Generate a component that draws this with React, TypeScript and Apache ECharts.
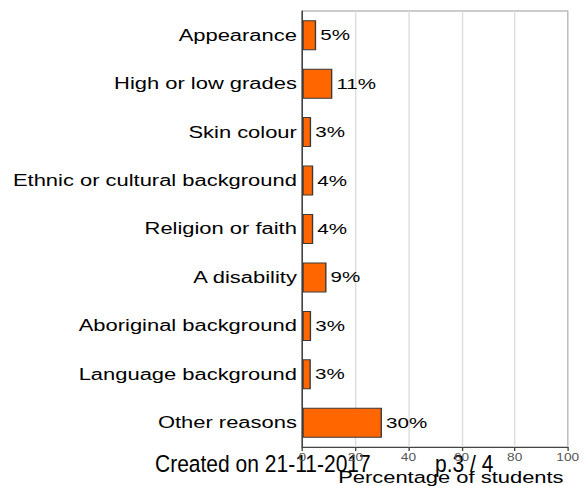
import React, { useEffect, useRef } from "react";
import * as echarts from "echarts";

const categories = [
  "Appearance",
  "High or low grades",
  "Skin colour",
  "Ethnic or cultural background",
  "Religion or faith",
  "A disability",
  "Aboriginal background",
  "Language background",
  "Other reasons",
];
const values = [5.2, 11.3, 3.3, 4.1, 4.1, 9.1, 3.3, 3.2, 30];
const xTicks = { min: 0, max: 100, interval: 20 };
const axisTitle = "Percentage of students";
const footerLeft = "Created on 21-11-2017";
const footerRight = "p.3 / 4";

const S = 1.3706;
const W = 429;
const H = 486;
const FONT = "'Liberation Sans', Arial, Helvetica, sans-serif";

export default function App() {
  const ref = useRef<HTMLDivElement>(null);
  useEffect(() => {
    if (!ref.current) return;
    const chart = echarts.init(ref.current, null, { renderer: "svg", width: W, height: H });
    chart.setOption({
      animation: false,
      textStyle: { fontFamily: FONT },
      grid: {
        left: 220.6,
        right: 14.8,
        top: 11,
        bottom: 39,
        show: true,
        borderColor: "#9a9a9a",
        borderWidth: 1,
        backgroundColor: "transparent",
      },
      xAxis: {
        type: "value",
        min: xTicks.min,
        max: xTicks.max,
        interval: xTicks.interval,
        name: axisTitle,
        nameLocation: "end",
        nameGap: -3,
        nameMoveOverlap: false,
        nameTextStyle: {
          fontFamily: FONT,
          fontSize: 16,
          color: "#000",
          align: "right",
          verticalAlign: "top",
          padding: [23, 0, 0, 0],
        },
        axisLine: { show: true, lineStyle: { color: "#444", width: 1 } },
        axisTick: { show: true, length: 4, lineStyle: { color: "#444" } },
        axisLabel: { fontSize: 10, color: "#555", margin: 6, fontFamily: FONT },
        splitLine: { show: true, lineStyle: { color: "#dcdcdc", width: 1 } },
      },
      yAxis: {
        type: "category",
        data: categories,
        inverse: true,
        axisLine: { show: true, lineStyle: { color: "#333", width: 1 } },
        axisTick: { show: false },
        axisLabel: { fontSize: 16, color: "#000", margin: 4, fontFamily: FONT },
        splitLine: { show: false },
      },
      series: [
        {
          type: "bar",
          data: values,
          barWidth: 30,
          itemStyle: { color: "#FF6600", borderColor: "#3a3a3a", borderWidth: 1 },
          label: {
            show: true,
            position: "right",
            distance: 3,
            fontSize: 15,
            color: "#000",
            fontFamily: FONT,
            formatter: (p: any) => Math.round(p.value) + "%",
          },
        },
      ],
      graphic: [
        {
          type: "text",
          x: 155 / S,
          y: 464,
          scaleX: 1 / S,
          scaleY: 1.1,
          style: {
            text: footerLeft,
            font: `21px ${FONT}`,
            fill: "#000",
            textVerticalAlign: "middle",
          },
        },
        {
          type: "text",
          x: 435 / S,
          y: 464,
          scaleX: 1 / S,
          scaleY: 1.1,
          style: {
            text: footerRight,
            font: `21px ${FONT}`,
            fill: "#000",
            textVerticalAlign: "middle",
          },
        },
      ],
    });
    return () => chart.dispose();
  }, []);
  return (
    <div
      ref={ref}
      style={{
        position: "fixed",
        left: 0,
        top: 0,
        width: W,
        height: H,
        transform: `scaleX(${S})`,
        transformOrigin: "0 0",
        background: "#fff",
      }}
    />
  );
}
